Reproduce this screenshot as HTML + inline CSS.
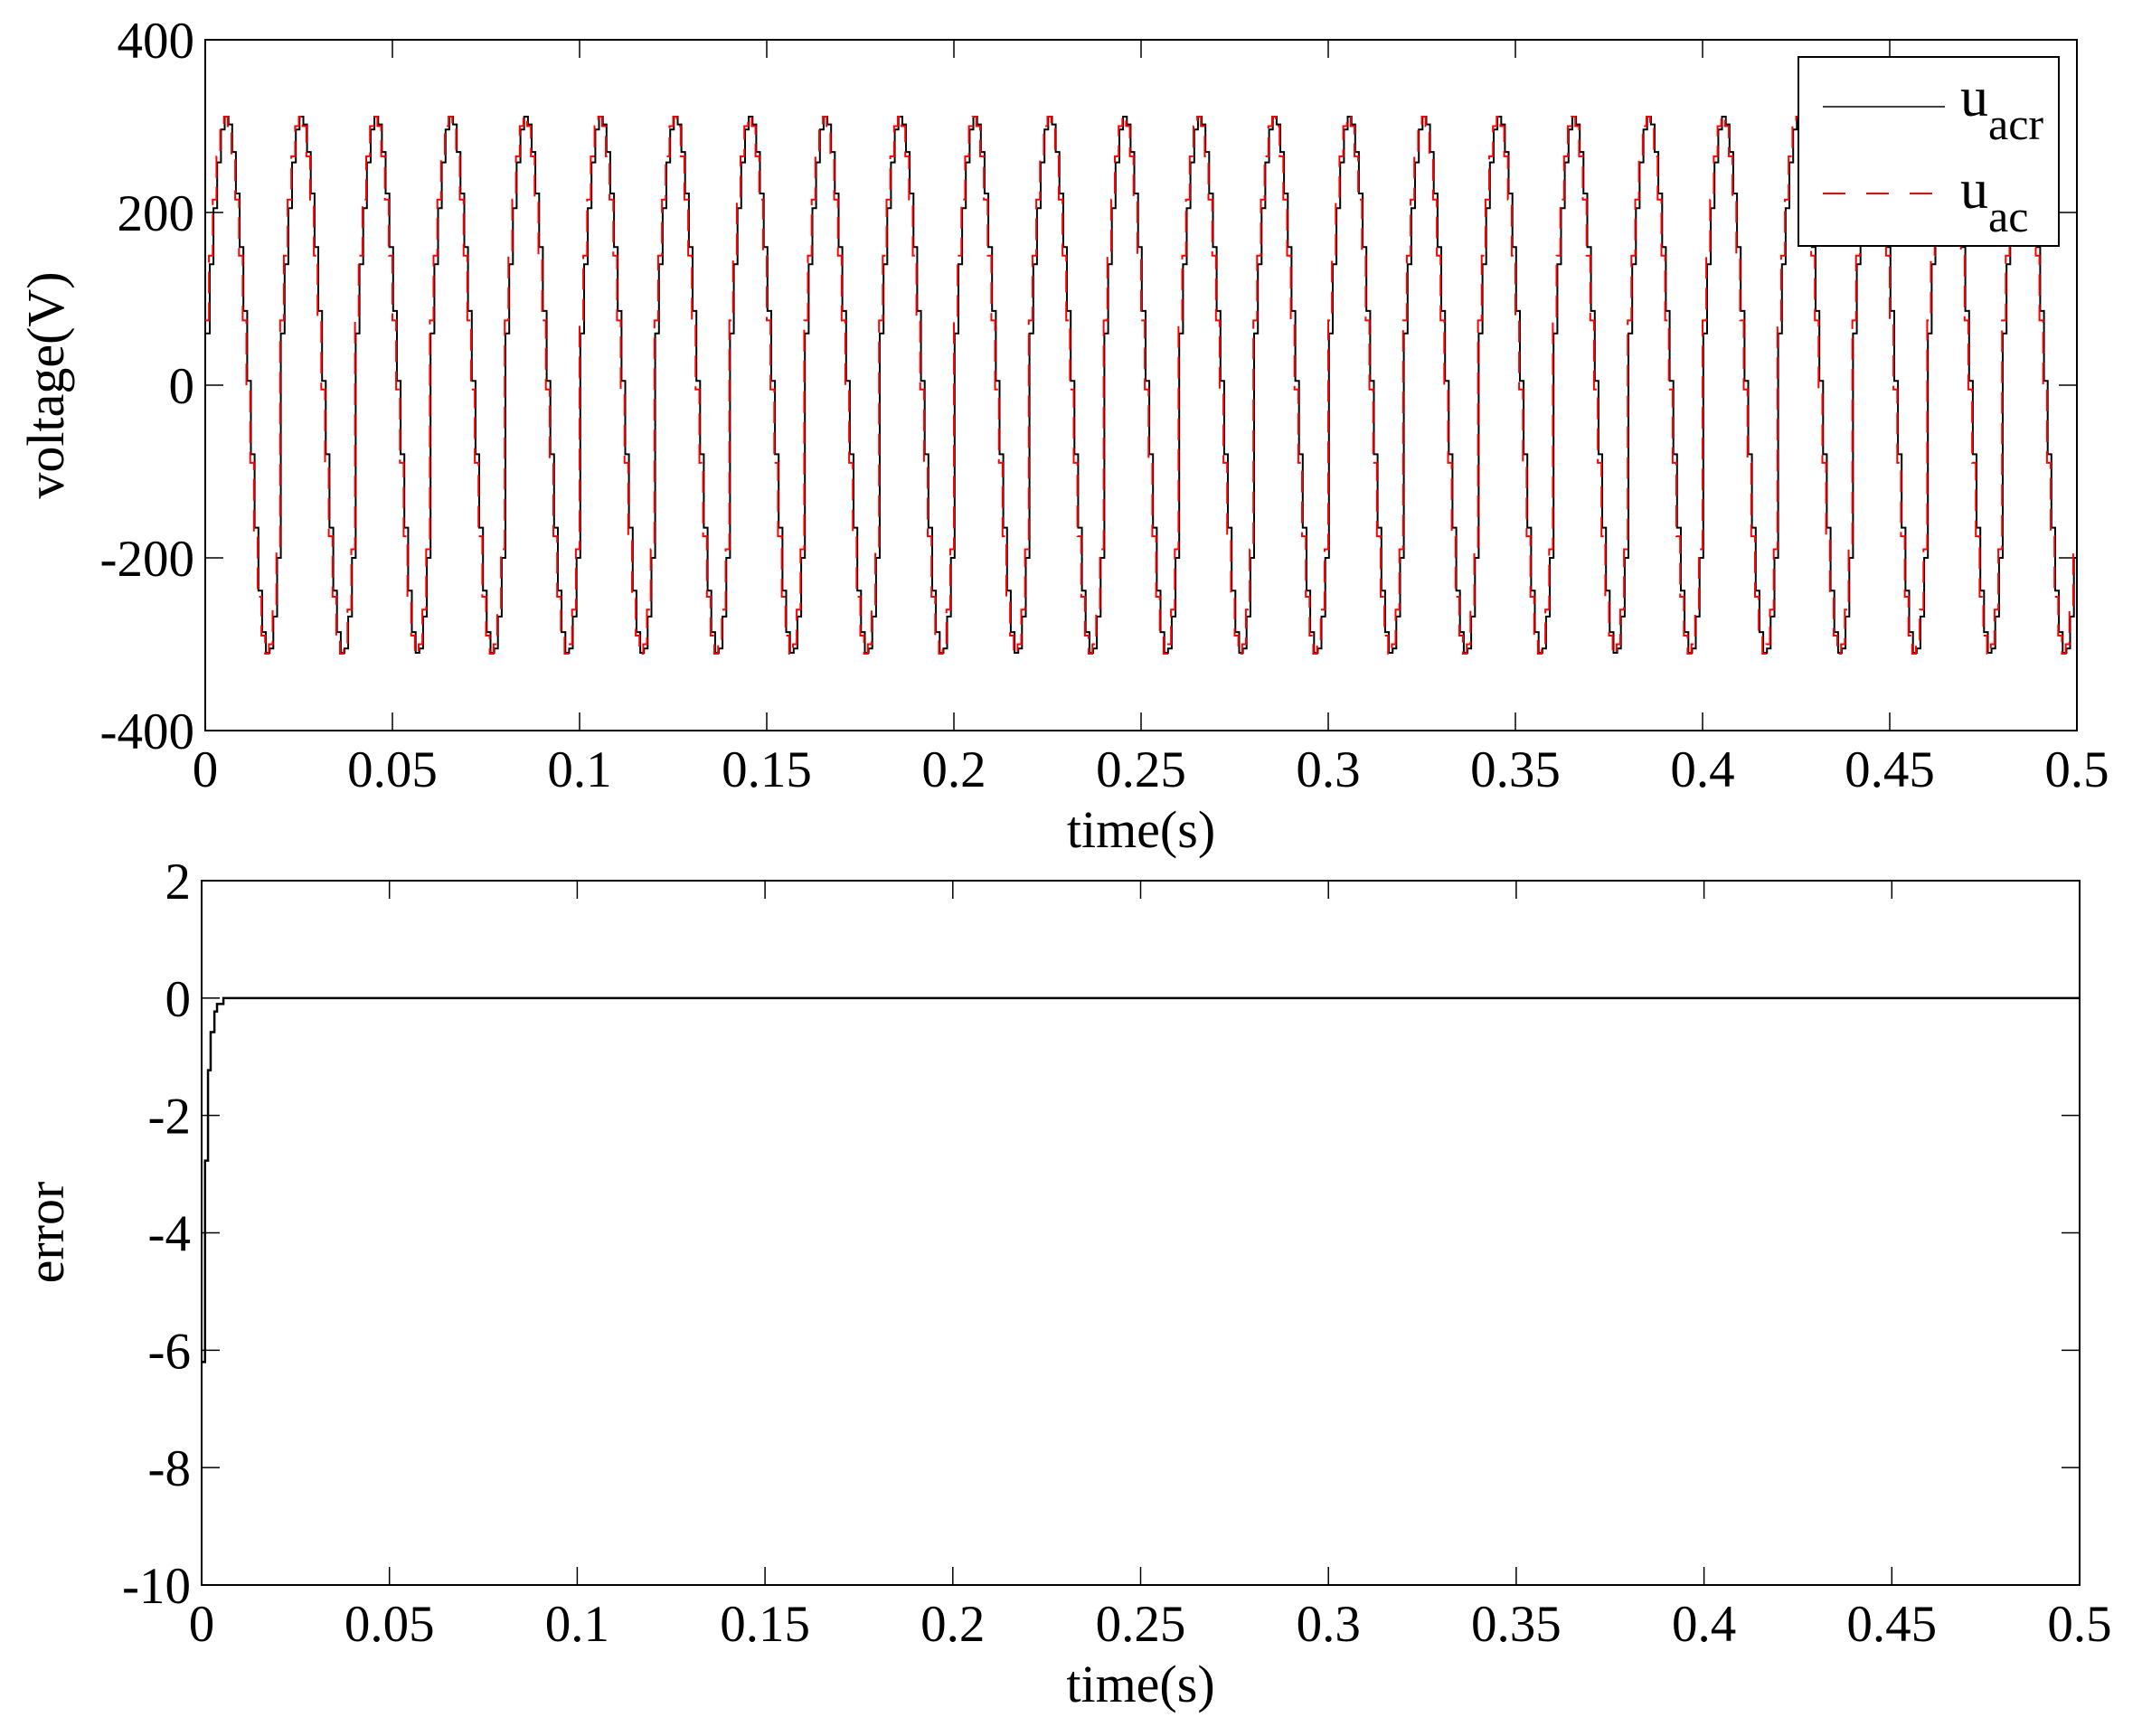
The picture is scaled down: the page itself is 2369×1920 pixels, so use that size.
<!DOCTYPE html>
<html><head><meta charset="utf-8">
<style>
html,body{margin:0;padding:0;background:#fff;}
svg{display:block;}
text{font-family:"Liberation Serif","Times New Roman",serif;fill:#000;}
</style></head>
<body>
<svg id="fig" width="2369" height="1920" viewBox="0 0 2369 1920" xmlns="http://www.w3.org/2000/svg">
<g id="topPlot"></g>
<g id="botPlot"></g>
</svg>
<script>
// ---- data ----
const xTicks = [0,0.05,0.1,0.15,0.2,0.25,0.3,0.35,0.4,0.45,0.5];
const xTickLabels = ["0","0.05","0.1","0.15","0.2","0.25","0.3","0.35","0.4","0.45","0.5"];
const vTicks = [-400,-200,0,200,400];
const vTickLabels = ["-400","-200","0","200","400"];
const eTicks = [-10,-8,-6,-4,-2,0,2];
const eTickLabels = ["-10","-8","-6","-4","-2","0","2"];
const cycleVals = [75,150,215,265,300,311,300,265,215,150,75,-5,-90,-175,-245,-290,-311,-300,-260,-190];
const acrVals = [60,140,205,258,296,311,302,270,222,160,86,5,-80,-165,-238,-286,-310,-305,-268,-200];
const sampleDt = 0.001;
const cycleCount = 25;
const errT = [0,0.0009,0.0017,0.0024,0.0034,0.0041,0.0058,0.5];
const errV = [-6.2,-2.77,-1.23,-0.58,-0.23,-0.1,0,0];

const NS="http://www.w3.org/2000/svg";
function mk(parent,tag,attrs){const e=document.createElementNS(NS,tag);for(const k in attrs)e.setAttribute(k,attrs[k]);parent.appendChild(e);return e;}

function axes(g,L,R,T,Bt,xmin,xmax,ymin,ymax,yt,ytl,ylabel,ylabelY,prefix){
  const sx=v=>L+(v-xmin)/(xmax-xmin)*(R-L);
  const sy=v=>Bt-(v-ymin)/(ymax-ymin)*(Bt-T);
  const box=mk(g,'rect',{x:L,y:T,width:R-L,height:Bt-T,fill:'#fff',stroke:'#000','stroke-width':2});
  
  
  xTicks.forEach((t,i)=>{
    const x=sx(t);
    const a=mk(g,'line',{x1:x,y1:Bt,x2:x,y2:Bt-20,stroke:'#000','stroke-width':1.5});
    
    
    mk(g,'line',{x1:x,y1:T,x2:x,y2:T+20,stroke:'#000','stroke-width':1.5});
    const tx=mk(g,'text',{x:x,y:Bt+62,'font-size':57,'text-anchor':'middle'});
    tx.textContent=xTickLabels[i];
    
    
  });
  yt.forEach((t,i)=>{
    const y=sy(t);
    const a=mk(g,'line',{x1:L,y1:y,x2:L+20,y2:y,stroke:'#000','stroke-width':1.5});
    
    
    mk(g,'line',{x1:R,y1:y,x2:R-20,y2:y,stroke:'#000','stroke-width':1.5});
    const tx=mk(g,'text',{x:L-12,y:y+20,'font-size':57,'text-anchor':'end'});
    tx.textContent=ytl[i];
    
    
  });
  const xl=mk(g,'text',{x:(L+R)/2,y:Bt+129,'font-size':58,'text-anchor':'middle'});
  xl.textContent='time(s)';
  
  
  const yl=mk(g,'text',{x:0,y:0,'font-size':58,'text-anchor':'middle',transform:`translate(70,${ylabelY}) rotate(-90)`});
  yl.textContent=ylabel;
  
  
  return {sx,sy};
}

// ---- top plot ----
const topG=document.getElementById('topPlot');
const axV=axes(topG,227,2297,44,808,0,0.5,-400,400,vTicks,vTickLabels,'voltage(V)',426,'voltage');
function stairs(vals,shift){
  let d='';
  for(let c=0;c<cycleCount;c++){
    for(let k=0;k<vals.length;k++){
      const t0=(c*vals.length+k)*sampleDt+shift, t1=t0+sampleDt;
      if(t0>=0.5) continue;
      const y=axV.sy(vals[k]);
      const x0=axV.sx(Math.max(0,t0)), x1=axV.sx(Math.min(0.5,t1));
      d+=(d?'L':'M')+x0.toFixed(1)+','+y.toFixed(1)+'L'+x1.toFixed(1)+','+y.toFixed(1);
    }
  }
  return d;
}
const pB=mk(topG,'path',{d:stairs(acrVals,0.0002),fill:'none',stroke:'#000','stroke-width':2});


const pR=mk(topG,'path',{d:stairs(cycleVals,0),fill:'none',stroke:'#f00','stroke-width':2,'stroke-dasharray':'24,10'});


// legend
const lg=mk(topG,'g',{});


mk(lg,'rect',{x:1989,y:63,width:288,height:209,fill:'#fff',stroke:'#000','stroke-width':2});
const l1=mk(lg,'line',{x1:2016,y1:118,x2:2151,y2:118,stroke:'#000','stroke-width':1.5});


const t1=mk(lg,'text',{x:2168,y:128,'font-size':62});
t1.innerHTML='u<tspan dy="26" font-size="50">acr</tspan>';
const l2=mk(lg,'line',{x1:2016,y1:214,x2:2151,y2:214,stroke:'#f00','stroke-width':2,'stroke-dasharray':'25,23'});


const t2=mk(lg,'text',{x:2168,y:230,'font-size':62});
t2.innerHTML='u<tspan dy="26" font-size="50">ac</tspan>';

// ---- bottom plot ----
const botG=document.getElementById('botPlot');
const axE=axes(botG,223,2300,974,1753,0,0.5,-10,2,eTicks,eTickLabels,'error',1363,'error');
let ed='';
for(let i=0;i<errT.length;i++){
  const x=axE.sx(errT[i]), y=axE.sy(errV[i]);
  if(i===0) ed='M'+x+','+y;
  else ed+='L'+x+','+axE.sy(errV[i-1])+'L'+x+','+y;
}
const pe=mk(botG,'path',{d:ed,fill:'none',stroke:'#000','stroke-width':2.5});


</script>
</body></html>
